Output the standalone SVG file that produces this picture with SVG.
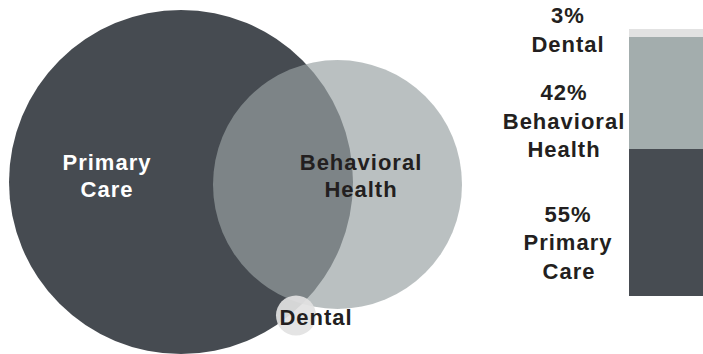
<svg xmlns="http://www.w3.org/2000/svg" width="703" height="354" viewBox="0 0 703 354">
  <style>
    .lbl { font-family: "Liberation Sans", Arial, sans-serif; font-weight: bold; font-size: 22px; letter-spacing: 1px; text-anchor: middle; }
    .dark { fill: #231f20; }
    .light { fill: #ffffff; }
  </style>
  <rect width="703" height="354" fill="#ffffff"/>

  <!-- Venn diagram -->
  <g id="primary-care">
    <circle cx="181" cy="182" r="172" fill="#464b51"/>
  </g>
  <g id="behavioral-health">
    <circle cx="337.5" cy="184.5" r="124.5" fill="#98a1a3" fill-opacity="0.67"/>
  </g>
  <g id="dental">
    <circle cx="296" cy="315.5" r="20" fill="#e2e2e2" fill-opacity="0.92"/>
  </g>
  <g id="venn-labels">
    <text class="lbl light" x="107" y="169.5">Primary</text>
    <text class="lbl light" x="107" y="196.5">Care</text>
    <text class="lbl dark" x="361" y="170">Behavioral</text>
    <text class="lbl dark" x="361" y="197">Health</text>
    <text class="lbl dark" x="316" y="325">Dental</text>
  </g>

  <!-- Stacked share bar -->
  <g id="bar-dental">
    <rect x="629" y="29" width="74" height="8" fill="#e2e2e2"/>
    <text class="lbl dark" x="568" y="23">3%</text>
    <text class="lbl dark" x="568" y="51.5">Dental</text>
  </g>
  <g id="bar-behavioral">
    <rect x="629" y="37" width="74" height="112" fill="#a3adad"/>
    <text class="lbl dark" x="564" y="100">42%</text>
    <text class="lbl dark" x="564" y="129">Behavioral</text>
    <text class="lbl dark" x="564" y="156.5">Health</text>
  </g>
  <g id="bar-primary">
    <rect x="629" y="149" width="74" height="147" fill="#474c52"/>
    <text class="lbl dark" x="568" y="221.5">55%</text>
    <text class="lbl dark" x="568" y="250">Primary</text>
    <text class="lbl dark" x="569" y="278.5">Care</text>
  </g>
  <g id="connectors"/>
</svg>
